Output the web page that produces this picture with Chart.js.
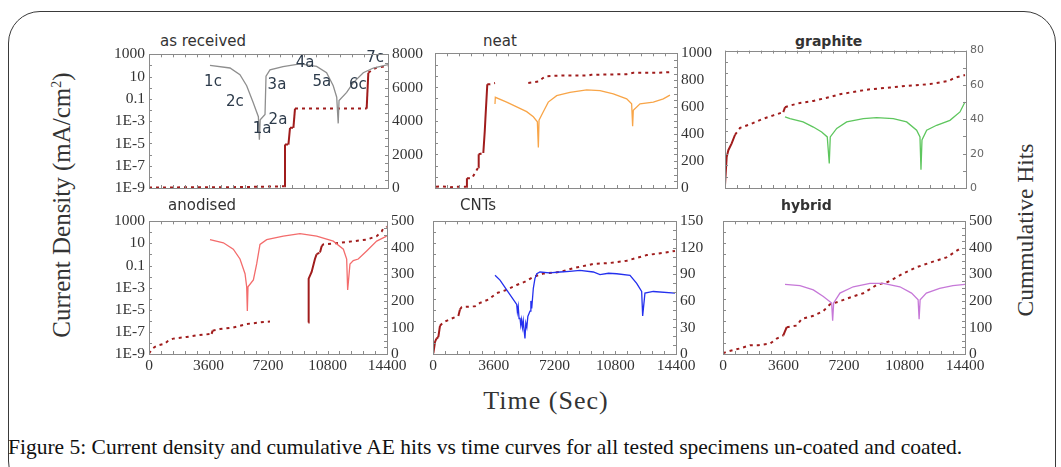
<!DOCTYPE html>
<html>
<head>
<meta charset="utf-8">
<script src="https://cdn.jsdelivr.net/npm/chart.js@4.4.0/dist/chart.umd.min.js"></script>
<style>
  body { margin: 0; background: #fff; }
  #page { position: relative; width: 1061px; height: 467px; overflow: hidden; font-family: 'Liberation Serif', serif; color: #222; }
  #frame { position: absolute; left: 8px; top: 11px; width: 1046px; height: 480px; border: 1px solid #3a3a3a; border-radius: 32px 32px 0 32px; }
  canvas { position: absolute; }
  .ptitle { position: absolute; font-family: 'DejaVu Sans', sans-serif; font-size: 15px; color: #333; transform: translateY(-50%); white-space: nowrap; }
  .vtitle { position: absolute; white-space: nowrap; transform: translate(-50%, -50%) rotate(-90deg); color: #333; }
  #xtitle { position: absolute; left: 546px; top: 401px; transform: translate(-50%, -50%); font-size: 26px; letter-spacing: 1px; color: #333; white-space: nowrap; }
  #caption { position: absolute; left: 8px; top: 435px; font-size: 21.5px; color: #111; white-space: nowrap; }
</style>
</head>
<body>
<div id="page">
  <div id="frame"></div>
  <div class="vtitle" style="left:62px;top:205px;font-size:25px">Current Density (mA/cm<sup style="font-size:14px">2</sup>)</div>
  <div class="vtitle" style="left:1025px;top:230px;font-size:23.5px">Cummulative Hits</div>
  <div id="xtitle">Time (Sec)</div>
  <div id="caption">Figure 5: Current density and cumulative AE hits vs time curves for all tested specimens un-coated and coated.</div>
</div>
<script>
// axis ticks
const timeTicks = [0, 3600, 7200, 10800, 14400];
const densTicks = [1e-9, 1e-7, 1e-5, 1e-3, 1e-1, 10, 1000];
const densTickLabels = ['1E-9', '1E-7', '1E-5', '1E-3', '0.1', '10', '1000'];

// as received
const recT = [3675, 4880, 5480, 5885, 6270, 6590, 6650, 6700, 6990, 7050, 7290, 8075, 9100, 10100, 10700, 11100, 11310, 11400, 11450, 11910, 12310, 12910, 13515, 14400];
const recJ = [100, 59, 15, 1.5, 0.05, 2.5e-3, 2.2e-5, 1.3e-3, 4e-3, 11, 40, 80, 140, 83, 22, 1.5, 0.14, 6.3e-4, 0.07, 0.38, 2.9, 22, 59, 117];
const recHitsT = [0, 5000, 8150, 8194, 8400, 8496, 8700, 8797, 13115, 13215, 13500, 13717, 14400];
const recHits = [30, 50, 100, 2600, 2600, 3600, 3600, 4750, 4750, 6900, 7100, 7200, 7300];
const recNotes = ['1c', '2c', '1a', '2a', '3a', '4a', '5a', '6c', '7c'];
const recNotesT = [3856, 5180, 6810, 7770, 7710, 9400, 10420, 12590, 13620];
const recNotesJ = [2.9, 0.05, 1.8e-4, 1.35e-3, 1.6, 160, 2.9, 1.6, 450];

// neat
const neatT = [3570, 3590, 4265, 4860, 5455, 5850, 6090, 6150, 6190, 6445, 6740, 7240, 8030, 9025, 9820, 10610, 11405, 11700, 11760, 11800, 12200, 12990, 13585, 13980];
const neatJ = [0.03, 0.12, 0.045, 0.017, 6.3e-3, 2.2e-3, 8e-4, 4e-6, 1.1e-3, 6.3e-3, 0.045, 0.17, 0.33, 0.56, 0.47, 0.24, 0.087, 0.032, 3.2e-4, 8.5e-3, 0.032, 0.045, 0.087, 0.19];
const neatHitsT = [60, 400, 900, 1300, 1888, 1900, 2200, 2577, 2600, 2875, 2960, 3000, 3112, 3290, 3570, 4500, 5550, 6150, 6445, 6600, 7620, 9125, 9300, 11405, 11800, 13190, 13940];
const neatHits = [10, 12, 5, 10, 10, 72, 72, 154, 251, 260, 420, 516, 770, 770, 780, null, 780, 790, 818, 830, 835, 835, 840, 845, 855, 855, 860];

// graphite
const grT = [3585, 3885, 4665, 5280, 5775, 6110, 6230, 6290, 6675, 7270, 8265, 9060, 10055, 10855, 11450, 11650, 11710, 11770, 12050, 12645, 13440, 14040, 14340];
const grJ = [1.6e-3, 1.15e-3, 5.9e-4, 2.1e-4, 7.9e-5, 2.9e-5, 1.4e-7, 2.9e-5, 1.6e-4, 5.9e-4, 1.15e-3, 1.4e-3, 1.15e-3, 5.9e-4, 1.1e-4, 2.9e-5, 4e-8, 1.6e-5, 1.1e-4, 3e-4, 8.1e-4, 4.4e-3, 3.2e-2];
const grHitsT = [0, 100, 200, 400, 600, 900, 1600, 2190, 2890, 3485, 3585, 3885, 4480, 5280, 6275, 6870, 7470, 8665, 9860, 10855, 12250, 13345, 13740, 14340];
const grHits = [1.7, 18, 22, 26, 31, 35, 37.5, 40, 42.3, 44.2, 47, 48, 49.5, 50.7, 53, 54.6, 55.6, 57.5, 58.5, 59.5, 60.5, 62.3, 64.2, 65.8];

// anodised
const anT = [3690, 4500, 5100, 5505, 5810, 5910, 5950, 5990, 6315, 6515, 6715, 7120, 8125, 9135, 10145, 11150, 11760, 11960, 12020, 12160, 12360, 12660, 13170, 13775, 14380];
const anJ = [22, 11.5, 3, 0.39, 0.018, 1.2e-3, 7.6e-6, 1.2e-3, 5e-3, 0.14, 8.1, 22, 45, 76, 45, 16, 3, 0.39, 6.3e-4, 0.14, 0.28, 0.39, 2.1, 16, 45];
const anHitsT = [0, 220, 360, 565, 970, 1170, 1470, 2270, 2880, 3790, 3850, 4295, 5100, 5910, 6715, 7320, 8500, 9640, 9660, 9840, 10040, 10140, 10345, 10450, 10545, 11555, 12360, 13170, 13775, 14080, 14180, 14380];
const anHits = [2, 21, 27, 33, 39, 51, 58, 64, 70, 76, 88, 94, 100, 113, 119, 122, null, 119, 284, 309, 358, 376, 382, 407, 413, 419, 425, 431, 444, 462, 474, 480];

// CNTs
const cntT = [3675, 3970, 4560, 4960, 5000, 5050, 5100, 5155, 5200, 5250, 5300, 5350, 5400, 5450, 5500, 5560, 5620, 5750, 5800, 5850, 5945, 6040, 6150, 6340, 6900, 7525, 8100, 8710, 9500, 9895, 10400, 10885, 11675, 12070, 12365, 12425, 12560, 13055, 14340];
const cntJ = [0.013, 4.8e-3, 2.3e-4, 3e-5, 6.3e-6, 2e-5, 1.6e-6, 1.9e-6, 4e-7, 1.3e-6, 2.5e-7, 1e-6, 1.3e-7, 2.5e-8, 6.3e-7, 2.5e-7, 2.5e-6, 7.6e-6, 6.3e-5, 1.3e-5, 8.7e-4, 6.6e-3, 0.018, 0.026, 0.022, 0.026, 0.03, 0.036, 0.026, 0.015, 0.02, 0.018, 0.013, 2.4e-3, 4.5e-4, 2.8e-6, 3.2e-4, 4.5e-4, 3.2e-4];
const cntHitsT = [20, 120, 200, 315, 415, 610, 1005, 1500, 1600, 1700, 2490, 2785, 3280, 3775, 4365, 4960, 5450, 5945, 6535, 7525, 8315, 9500, 10490, 11480, 12665, 13745, 14340];
const cntHits = [0.7, 13.6, 17.3, 19.1, 32, 35.7, 39.4, 43, 50.4, 53, 54, 57.8, 61.5, 68.8, 72.5, 78, 81.7, 87.2, 90.9, 92.7, 97, 101.8, 102.9, 105.5, 111.8, 114.7, 116.5];

// hybrid
const hybT = [3690, 4580, 5375, 5970, 6465, 6525, 6585, 6960, 7750, 8745, 9535, 10525, 11220, 11610, 11670, 11730, 12100, 12890, 13680, 14400];
const hybJ = [1.95e-3, 1.5e-3, 6.2e-4, 1.6e-4, 4.1e-5, 1e-6, 4.1e-5, 3.2e-4, 1.2e-3, 2.4e-3, 2.4e-3, 1.2e-3, 3.2e-4, 8.1e-5, 1.4e-6, 8.1e-5, 3.2e-4, 8.7e-4, 1.5e-3, 1.95e-3];
const hybHitsT = [0, 220, 1010, 1605, 2100, 2800, 3195, 3590, 3790, 4385, 4680, 5375, 5970, 6365, 6960, 7750, 8345, 8840, 9140, 9830, 10720, 11515, 12410, 13300, 14195];
const hybHits = [2.5, 8.5, 21, 33, 33, 39, 58, 70, 101, 107, 132, 144, 162, 187, 199, 217, 229, 248, 260, 272, 303, 327, 346, 364, 401];

const hitsColor = '#a01c1c';
const tickFont = { family: 'Liberation Serif', size: 15.5 };

const panels = [
  { title: 'as received', tx: 160, ty: 41, x: 149, y: 51, w: 239, h: 137, t: recT, j: recJ, ht: recHitsT, hv: recHits, color: '#8e8e8e', hmax: 8000, hstep: 2000, hminor: 500, left: true, bottom: false, notes: true },
  { title: 'neat', tx: 483, ty: 41, x: 435, y: 50, w: 242, h: 138, t: neatT, j: neatJ, ht: neatHitsT, hv: neatHits, color: '#f8a548', hmax: 1000, hstep: 200, hminor: 50, left: false, bottom: false },
  { title: 'graphite', tx: 795, ty: 41, x: 725, y: 50, w: 241, h: 138, t: grT, j: grJ, ht: grHitsT, hv: grHits, color: '#5ec65e', hmax: 80, hstep: 20, hminor: 10, left: false, bottom: false, bold: true, smallRight: true },
  { title: 'anodised', tx: 168, ty: 205, x: 149, y: 218, w: 238, h: 136, t: anT, j: anJ, ht: anHitsT, hv: anHits, color: '#f36c6c', hmax: 500, hstep: 100, hminor: 25, left: true, bottom: true },
  { title: 'CNTs', tx: 460, ty: 205, x: 433, y: 218, w: 243, h: 136, t: cntT, j: cntJ, ht: cntHitsT, hv: cntHits, color: '#2430ee', hmax: 150, hstep: 30, hminor: 10, left: false, bottom: true },
  { title: 'hybrid', tx: 781, ty: 205, x: 723, y: 218, w: 242, h: 136, t: hybT, j: hybJ, ht: hybHitsT, hv: hybHits, color: '#c678d8', hmax: 500, hstep: 100, hminor: 25, left: false, bottom: true, bold: true }
];

// plot box with small inward ticks
const boxPlugin = {
  id: 'box',
  afterDraw(chart) {
    const { ctx, chartArea: a, scales } = chart;
    const minor = chart.options.plugins.box.minor;
    ctx.save();
    ctx.strokeStyle = '#8a8a8a';
    ctx.lineWidth = 1;
    ctx.strokeRect(Math.round(a.left) + 0.5, Math.round(a.top) + 0.5, Math.round(a.right - a.left), Math.round(a.bottom - a.top));
    ctx.beginPath();
    for (let t = 0; t <= 14400; t += 720) {
      const x = Math.round(scales.x.getPixelForValue(t)) + 0.5;
      ctx.moveTo(x, a.top); ctx.lineTo(x, a.top + 3);
      ctx.moveTo(x, a.bottom); ctx.lineTo(x, a.bottom - 3);
    }
    for (let e = -9; e <= 3; e++) {
      const y = Math.round(scales.y.getPixelForValue(Math.pow(10, e))) + 0.5;
      ctx.moveTo(a.left, y); ctx.lineTo(a.left + 3, y);
    }
    for (let v = 0; v <= scales.y2.max; v += minor) {
      const y = Math.round(scales.y2.getPixelForValue(v)) + 0.5;
      ctx.moveTo(a.right, y); ctx.lineTo(a.right - 3, y);
    }
    ctx.stroke();
    ctx.restore();
  }
};

// point labels for the as received curve
const notePlugin = {
  id: 'notes',
  afterDatasetsDraw(chart) {
    if (!chart.options.plugins.notes.show) return;
    const { ctx, scales } = chart;
    ctx.save();
    ctx.font = '15px "DejaVu Sans", sans-serif';
    ctx.fillStyle = '#2c3a4a';
    ctx.textAlign = 'center';
    ctx.textBaseline = 'middle';
    recNotes.forEach((s, i) => {
      ctx.fillText(s, scales.x.getPixelForValue(recNotesT[i]), scales.y.getPixelForValue(recNotesJ[i]));
    });
    ctx.restore();
  }
};

const page = document.getElementById('page');
const padL = 60, padR = 60, padT = 10, padB = 30;

panels.forEach(p => {
  const title = document.createElement('div');
  title.className = 'ptitle';
  title.textContent = p.title;
  title.style.left = p.tx + 'px';
  title.style.top = p.ty + 'px';
  if (p.bold) { title.style.fontWeight = 'bold'; title.style.fontSize = '14px'; }
  page.appendChild(title);

  const cv = document.createElement('canvas');
  cv.width = p.w + padL + padR;
  cv.height = p.h + padT + padB;
  cv.style.left = (p.x - padL) + 'px';
  cv.style.top = (p.y - padT) + 'px';
  page.appendChild(cv);

  new Chart(cv, {
    type: 'line',
    data: {
      datasets: [
        {
          data: p.t.map((t, i) => ({ x: t, y: p.j[i] })),
          yAxisID: 'y',
          borderColor: p.color,
          borderWidth: 1.3,
          pointRadius: 0,
          tension: 0
        },
        {
          data: p.ht.map((t, i) => ({ x: t, y: p.hv[i] })),
          yAxisID: 'y2',
          borderColor: hitsColor,
          borderWidth: 2,
          pointRadius: 0,
          spanGaps: false,
          segment: {
            borderDash: ctx => Math.abs(ctx.p1.y - ctx.p0.y) > 2 * Math.abs(ctx.p1.x - ctx.p0.x) ? [] : [3, 4]
          }
        }
      ]
    },
    options: {
      responsive: false,
      animation: false,
      layout: { padding: { top: padT, left: 0, right: 0, bottom: 0 } },
      plugins: {
        legend: { display: false },
        tooltip: { enabled: false },
        box: { minor: p.hminor },
        notes: { show: !!p.notes }
      },
      scales: {
        x: {
          type: 'linear', min: 0, max: 14400,
          afterBuildTicks: s => { s.ticks = timeTicks.map(v => ({ value: v })); },
          grid: { display: false, drawTicks: false },
          border: { display: false },
          ticks: { display: p.bottom, font: tickFont, color: '#333', padding: 3, maxRotation: 0, autoSkip: false, callback: v => String(v) },
          afterFit: s => { s.height = padB; }
        },
        y: {
          type: 'logarithmic', position: 'left', min: 1e-9, max: 1000,
          afterBuildTicks: s => { s.ticks = densTicks.map(v => ({ value: v })); },
          grid: { display: false, drawTicks: false },
          border: { display: false },
          ticks: { display: p.left, font: tickFont, color: '#333', padding: 4, autoSkip: false, callback: (v, i) => densTickLabels[i] },
          afterFit: s => { s.width = padL; }
        },
        y2: {
          type: 'linear', position: 'right', min: 0, max: p.hmax,
          grid: { display: false, drawTicks: false },
          border: { display: false },
          ticks: {
            stepSize: p.hstep, autoSkip: false, padding: 4,
            font: p.smallRight ? { family: 'DejaVu Sans', size: 11 } : tickFont,
            color: p.smallRight ? '#666' : '#333',
            callback: v => String(v)
          },
          afterFit: s => { s.width = padR; }
        }
      }
    },
    plugins: [boxPlugin, notePlugin]
  });
});
</script>
</body>
</html>
